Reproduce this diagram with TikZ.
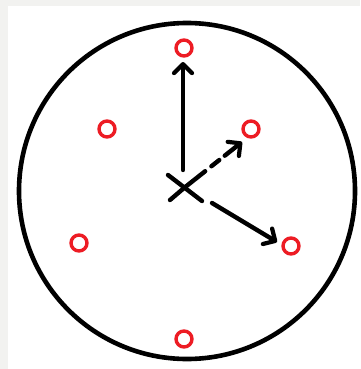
\documentclass[tikz,border=0pt]{standalone}
\usetikzlibrary{arrows.meta}
\definecolor{bggray}{RGB}{242,242,240}
\definecolor{dotred}{RGB}{237,28,36}
\begin{document}
\begin{tikzpicture}[x=1pt,y=-1pt,
  dot/.style={circle,draw=dotred,line width=3.4pt,minimum size=16pt,inner sep=0pt},
  hand/.style={line width=4.4pt,line cap=round,-{Straight Barb[length=9pt,width=18pt,line width=4.2pt,round]}},
  xstroke/.style={line width=4.4pt,line cap=round}]
\fill[bggray] (0,0) rectangle (360,369);
\fill[white] (8,6) rectangle (360,369);
\useasboundingbox (0,0) rectangle (360,369);
\draw[line width=4.6pt] (187,191) circle (168);
\node[dot] (d12) at (184,48) {};
\node[dot] (d10) at (107,129) {};
\node[dot] (d2) at (251,129) {};
\node[dot] (d8) at (79,243) {};
\node[dot] (d4) at (291,246) {};
\node[dot] (d6) at (184,339) {};
\coordinate (c) at (184,188);
\coordinate (vstart) at (183,170);
\coordinate (rstart) at (212,203);
\draw[xstroke] (168,175) -- (202,201);
\draw[xstroke] (170,200) -- (c);
\draw[hand,dash pattern=on 27pt off 8pt on 10pt off 7pt on 40pt] (c) -- (242,142);
\draw[hand] (vstart) -- (183,62);
\draw[hand] (rstart) -- (277,242);
\end{tikzpicture}
\end{document}
